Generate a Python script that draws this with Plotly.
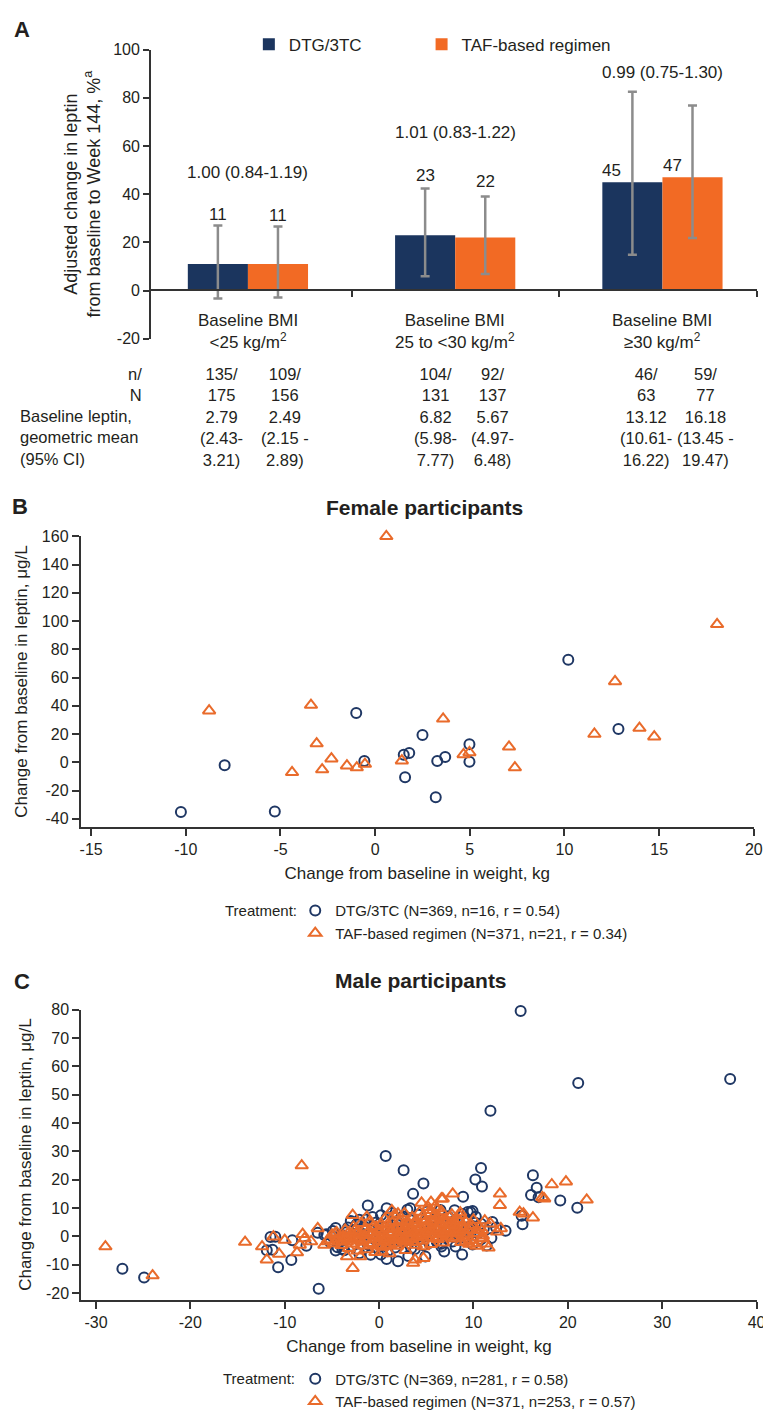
import plotly.graph_objects as go

W, H = 771, 1410
FONT = "Liberation Sans, Arial, Helvetica, sans-serif"
TXT = "#231f20"
AXC = "#333333"
NAVY = "#1b355e"
ORANGE = "#f26a24"
MK_NAVY = "#1f3764"
MK_ORANGE = "#e96b2b"
GRAY = "#8c8c8c"

# ---------------- Panel A: adjusted change in leptin by BMI ----------------
bmi_groups = ["Baseline BMI<br>&lt;25 kg/m<sup>2</sup>",
              "Baseline BMI<br>25 to &lt;30 kg/m<sup>2</sup>",
              "Baseline BMI<br>≥30 kg/m<sup>2</sup>"]
dtg_change = [11, 23, 45]
taf_change = [11, 22, 47]
dtg_ci_lo = [-3.3, 5.9, 14.9]
dtg_ci_hi = [27.0, 42.4, 82.5]
taf_ci_lo = [-2.9, 6.9, 21.8]
taf_ci_hi = [26.6, 39.0, 76.8]
ratio_labels = ["1.00 (0.84-1.19)", "1.01 (0.83-1.22)", "0.99 (0.75-1.30)"]

dtg_n = [135, 104, 46]
dtg_N = [175, 131, 63]
taf_n = [109, 92, 59]
taf_N = [156, 137, 77]
dtg_leptin = ["2.79", "6.82", "13.12"]
dtg_leptin_lo = ["(2.43-", "(5.98-", "(10.61-"]
dtg_leptin_hi = ["3.21)", "7.77)", "16.22)"]
taf_leptin = ["2.49", "5.67", "16.18"]
taf_leptin_lo = ["(2.15 -", "(4.97-", "(13.45 -"]
taf_leptin_hi = ["2.89)", "6.48)", "19.47)"]

a_yticks = [-20, 0, 20, 40, 60, 80, 100]

# ---------------- Panel B: female participants ----------------
fem_dtg_x = [-10.26, -7.95, -5.3, -1.0, -0.57, 1.51, 1.8, 1.58, 2.5, 3.2, 3.28, 3.7, 4.98, 4.98, 10.2, 12.85]
fem_dtg_y = [-35.2, -2.1, -34.7, 35.0, 1.0, 5.4, 6.6, -10.5, 19.4, -24.7, 1.0, 3.8, 12.9, 0.5, 72.7, 23.6]
fem_taf_x = [-8.77, -3.39, -3.09, -4.39, -2.31, -2.8, -1.49, -0.97, -0.54, 0.59, 1.41,
             3.59, 4.67, 4.98, 7.07, 7.38, 11.58, 12.67, 13.96, 14.74, 18.06]
fem_taf_y = [36.6, 40.6, 13.3, -7.0, 2.6, -5.1, -2.3, -3.7, -1.2, 160.0, 1.2,
             30.8, 5.6, 7.0, 11.0, -3.7, 20.1, 57.3, 24.3, 18.2, 97.7]
b_xticks = [-15, -10, -5, 0, 5, 10, 15, 20]
b_yticks = [-40, -20, 0, 20, 40, 60, 80, 100, 120, 140, 160]

# ---------------- Panel C: male participants ----------------
male_dtg_x = [37.2, 21.1, 11.8, 15.0, 0.7, 2.6, 4.7, 3.6, 10.8, 10.2, 10.9, 8.9, 16.3, 16.7, 16.1, 16.9,
              19.2, 21.0, 15.1, 15.2, 13.4, 12.0, 8.8, 6.9, 4.9, 3.1, 2.0, 0.8, -1.2, 0.8, 3.3,
              -6.4, -9.3, -10.7, -11.3, -11.9, -11.5, -11.0, -9.2, -7.7, -6.5, -27.2, -24.9,
              0.2, -0.7, -2.1, -5.6, -4.9, -3.9, -4.6, 3.4, 9.4, 10.25, 8.0, 9.55, 10.8, 9.7, 9.2, 6.6, 6.1,
              -5.8, -5.2, -4.9, -4.4, -4.1, -3.7, -3.5, -3.3, -2.9, -2.6, -2.4, -2.1, -1.8, -1.6, -1.2,
              -0.9, -0.8, -0.5, -0.3, -0.2, 0.1, 0.3, 0.5, 0.8, 0.9, 1.1, 1.3, 1.5, 1.7, 1.9, 2.1, 2.3,
              2.5, 2.7, 2.9, 3.1, 3.3, 3.6, 3.8, 4.0, 4.2, 4.4, 4.6, 4.9, 5.1, 5.3, 5.5, 5.8, 6.0, 6.3,
              6.5, 6.8, 7.0, 7.3, 7.5, 7.8, 8.0, 8.3, 8.5, 8.8, 9.0, 9.3, 9.6, 9.9, 10.2, 10.5, 10.8,
              11.1, 11.4, 9.7, 9.9, 8.1, 6.6, 4.7, 3.0, 1.4, 0.2, -1.4, -3.0, -4.6, 11.9, 12.4]
male_dtg_y = [55.5, 54.1, 44.3, 79.5, 28.4, 23.3, 18.7, 15.0, 24.1, 20.1, 17.6, 14.0, 21.6, 17.2, 14.6, 13.8,
              12.7, 10.1, 7.3, 4.3, 2.0, 5.1, -6.4, -5.3, -7.1, -6.9, -8.8, -8.0, 10.9, 9.9, 9.9,
              -18.5, -8.3, -10.9, -4.7, -4.9, -0.2, -0.1, -1.4, -3.3, 1.3, -11.4, -14.5,
              7.5, 6.8, 5.9, 0.8, -0.1, -4.4, -5.0, -4.2, 8.6, 6.9, 9.2, 3.4, 4.5, 1.0, 1.6, -3.6, -1.8,
              0.5, -2.0, 1.9, -3.8, 0.4, -4.9, 1.5, 3.1, -3.3, -0.1, 4.2, -5.9, 0.9, 3.6, -2.9,
              -6.5, 2.3, -0.8, 4.9, -4.2, 0.3, 3.2, -2.7, 6.6, -5.2, 1.0, -1.2, 3.9, -3.9, 5.1, 1.3, -1.8,
              7.0, 0.2, 3.5, -2.5, 5.8, 1.0, -4.4, 3.3, 7.6, -0.9, 4.5, 1.6, 8.8, -2.3, 3.4, 6.1, 0.4, 2.2,
              9.3, 4.0, -0.5, 7.1, 2.7, -1.8, 5.5, 0.9, 3.1, 7.9, -0.4, 5.9, 2.6, -2.9, 4.8, 1.2, -1.0,
              2.9, -3.2, 8.5, 9.0, -3.6, -2.6, -3.1, 9.4, 8.3, -6.4, 6.0, 5.4, 3.0, -0.6, 3.1]

male_taf_x = [-29.0, -24.0, -8.2, -14.2, -12.4, -11.9, -10.6, -11.2, -10.0, -8.7, -8.4, -7.9, -8.1, -6.5,
              -7.2, -5.8, -5.45, -3.4, -2.8, -2.0, -2.8, -1.3, 0.3, 1.35, 2.0, 3.8, 3.6, 4.7, 4.7, 4.5,
              5.5, 6.6, 5.4, 6.2, 18.3, 19.8, 22.0, 17.3, 17.5, 12.8, 12.8, 14.9, 16.3, 7.8, 6.75, 5.9,
              10.8, 11.8, 12.5, 12.9, 9.55, 9.2, 8.5, 10.4, 10.9, 15.3, 11.0, 9.9,
              -5.4, -5.0, -4.8, -4.5, -4.3, -4.0, -3.8, -3.6, -3.4, -3.2, -3.0, -2.8, -2.7, -2.5, -2.3,
              -2.2, -2.0, -1.9, -1.7, -1.6, -1.4, -1.3, -1.1, -1.0, -0.9, -0.7, -0.6, -0.4, -0.3, -0.1,
              0.0, 0.2, 0.3, 0.4, 0.6, 0.7, 0.9, 1.0, 1.1, 1.2, 1.4, 1.5, 1.6, 1.8, 1.9, 2.0, 2.2, 2.3,
              2.4, 2.6, 2.7, 2.8, 3.0, 3.1, 3.2, 3.4, 3.5, 3.6, 3.8, 3.9, 4.0, 4.2, 4.3, 4.4, 4.6, 4.7,
              4.8, 5.0, 5.1, 5.2, 5.4, 5.5, 5.6, 5.8, 5.9, 6.0, 6.2, 6.3, 6.5, 6.6, 6.8, 6.9, 7.0, 7.2,
              7.3, 7.5, 7.6, 7.8, 8.0, 8.1, 8.3, 8.5, 8.7, 8.8, 9.0, 9.2, 9.4, 9.6, 9.8, 10.1, 10.3,
              10.6, 11.0, 11.3, 11.6, 11.2,
              0.5, 1.3, 2.1, 2.9, 3.3, 3.7, 4.1, 4.5, 4.9, 5.3, 5.7, 6.1, 6.4, 6.7, 7.1, 7.4, 7.9, 8.2,
              -0.2, 0.1, -0.8, -1.5, -2.4, -3.1, -3.9, 1.7, 2.5, 3.9, 4.6, 5.5, 6.3, 7.7, 8.6,
              -4.7, -4.2, -3.5, -3.3, -2.9, -2.6, -2.1, -1.8, -1.2, -1.0, -0.5, -0.3, 0.1, 0.3, 0.8, 0.9,
              1.2, 1.4, 1.6, 1.8, 2.1, 2.3, 2.6, 2.8, 3.0, 3.3, 3.5, 3.7, 4.0, 4.3, 4.6, 4.9, 5.2, 5.4,
              5.7, 6.0, 6.2, 6.5, 6.8, 7.1, 7.4, 7.7, 8.0, 8.3, 8.6, 8.9, 9.3, 9.6, 10.0, 10.4]
male_taf_y = [-3.6, -13.8, 25.0, -2.0, -3.6, -8.2, -6.2, -0.1, -1.3, -5.7, -3.0, -0.7, 0.8, 2.8,
              -1.8, -3.0, -1.8, -7.1, -11.2, -7.1, 7.5, 6.9, -5.3, 9.2, 8.0, -8.2, -9.4, -7.7, -3.6, 11.8,
              12.1, 13.3, 9.2, 9.8, 18.3, 19.3, 12.9, 13.8, 13.3, 15.0, 11.0, 8.6, 6.6, 15.0, 13.3, 10.4,
              -0.7, 4.5, 1.6, 2.8, -2.7, -1.8, 7.5, 2.2, 2.2, 8.0, -0.7, -2.5,
              -1.2, 0.6, -2.5, 1.4, -0.8, -3.1, 0.2, 2.3, -1.9, -4.2, 0.9, -2.6, 3.4, -0.4, -5.1,
              1.8, -1.5, 4.6, -3.3, 0.3, 2.7, -4.6, -0.9, 5.2, 1.2, -2.4, 3.6, -5.6, 0.1, 2.1,
              -1.6, 4.4, -3.7, 0.8, 6.1, -0.5, 2.9, -2.2, -6.0, 1.5, 4.8, -1.0, 7.4, 0.4, -3.4, 3.1, -0.3, 5.6,
              1.9, -2.0, 8.1, -4.9, 0.9, 4.0, -1.2, 2.6, 6.7, -0.2, 1.6, -3.0, 4.9, 0.5, 8.6, 2.8, -1.5, 6.0,
              1.2, 3.7, -0.6, 10.3, 2.0, -2.8, 5.2, 0.8, 7.5, 3.0, -1.0, 4.4, 1.5, 8.8, -2.2, 5.8, 2.4, 0.0,
              3.9, 6.9, 1.0, 4.8, -0.8, 2.9, 6.0, 1.8, -2.1, 3.6, 0.6, 5.1, 2.3, -1.3, 4.0, 1.1, -3.4,
              3.2, 0.2, -2.6, -4.0, 5.6,
              -1.8, 2.4, 0.6, -1.7, 3.3, -2.1, 1.9, -0.4, 3.0, 0.9, 2.5, -0.2, 2.9, 0.6, 4.6, 2.0, 0.9, 4.3,
              -3.1, 1.7, 0.6, -1.3, 1.0, -0.8, -1.5, -2.6, 3.8, 5.7, 7.1, 8.2, 6.9, 7.7, 8.4,
              0.9, -1.8, -0.6, 1.1, -1.2, 2.0, 0.5, -2.0, 1.3, -2.7, -0.2, 3.4, -0.6, 2.6, -1.1, 4.2,
              -3.1, 1.0, 3.0, -1.4, 5.0, 1.3, -0.7, 2.2, 5.3, -0.9, 1.1, 4.4, -0.1, 3.2, 0.2, 5.3, 1.6, 4.1,
              -0.3, 6.3, 2.0, 4.6, 0.9, 5.9, 3.0, -0.2, 3.9, 1.2, 5.3, 2.4, -0.1, 3.4, 5.8, 0.9]
c_xticks = [-30, -20, -10, 0, 10, 20, 30, 40]
c_yticks = [-20, -10, 0, 10, 20, 30, 40, 50, 60, 70, 80]


def px(x):
    return x / W


def py(y):
    return 1 - y / H


def hyphen_labels(vals):
    # the figure prints negative ticks with a plain hyphen
    return [str(v) for v in vals]


fig = go.Figure()

# Panel A bars
fig.add_trace(go.Bar(
    x=[0, 1, 2], y=dtg_change, name="DTG/3TC", marker=dict(color=NAVY, line=dict(width=0)),
    error_y=dict(type="data", symmetric=False,
                 array=[h - v for h, v in zip(dtg_ci_hi, dtg_change)],
                 arrayminus=[v - l for l, v in zip(dtg_ci_lo, dtg_change)],
                 color=GRAY, thickness=2.5, width=4.5),
    xaxis="x", yaxis="y", legend="legend", hoverinfo="skip"))
fig.add_trace(go.Bar(
    x=[0, 1, 2], y=taf_change, name="TAF-based regimen", marker=dict(color=ORANGE, line=dict(width=0)),
    error_y=dict(type="data", symmetric=False,
                 array=[h - v for h, v in zip(taf_ci_hi, taf_change)],
                 arrayminus=[v - l for l, v in zip(taf_ci_lo, taf_change)],
                 color=GRAY, thickness=2.5, width=4.5),
    xaxis="x", yaxis="y", legend="legend4", hoverinfo="skip"))

# Panel B scatter
fig.add_trace(go.Scatter(
    x=fem_dtg_x, y=fem_dtg_y, mode="markers", name="DTG/3TC (N=369, n=16, r = 0.54)",
    marker=dict(symbol="circle-open", size=10, color=MK_NAVY, line=dict(width=2)),
    xaxis="x2", yaxis="y2", legend="legend2", cliponaxis=False))
fig.add_trace(go.Scatter(
    x=fem_taf_x, y=fem_taf_y, mode="markers", name="TAF-based regimen (N=371, n=21, r = 0.34)",
    marker=dict(symbol="triangle-up-open", size=11, color=MK_ORANGE, line=dict(width=2)),
    xaxis="x2", yaxis="y2", legend="legend2", cliponaxis=False))

# Panel C scatter
fig.add_trace(go.Scatter(
    x=male_dtg_x, y=male_dtg_y, mode="markers", name="DTG/3TC (N=369, n=281, r = 0.58)",
    marker=dict(symbol="circle-open", size=10, color=MK_NAVY, line=dict(width=2)),
    xaxis="x3", yaxis="y3", legend="legend3", cliponaxis=False))
fig.add_trace(go.Scatter(
    x=male_taf_x, y=male_taf_y, mode="markers", name="TAF-based regimen (N=371, n=253, r = 0.57)",
    marker=dict(symbol="triangle-up-open", size=11, color=MK_ORANGE, line=dict(width=2)),
    xaxis="x3", yaxis="y3", legend="legend3", cliponaxis=False))

axis_common = dict(showline=True, linewidth=2, linecolor=AXC, ticks="outside", tickwidth=2,
                   tickcolor=AXC, showgrid=False, zeroline=False,
                   tickfont=dict(size=16, color=TXT, family=FONT))

leg_common = dict(bgcolor="rgba(0,0,0,0)", traceorder="normal", tracegroupgap=0)

lep_title = "Change from baseline in leptin, μg/L"
wt_title = "Change from baseline in weight, kg"

fig.update_layout(
    width=W, height=H, margin=dict(l=0, r=0, t=0, b=0),
    paper_bgcolor="white", plot_bgcolor="white",
    font=dict(family=FONT, color=TXT, size=16),
    barmode="group", bargap=0.42, bargroupgap=0,
    xaxis=dict(axis_common, domain=[px(144), px(758)], range=[-0.467, 2.457],
               anchor="free", position=py(277.5), tickvals=[0.5, 1.5, 2.457],
               showticklabels=False, ticklen=6),
    yaxis=dict(axis_common, domain=[py(326.7), py(34)], range=[-20, 100], anchor="x",
               tickvals=a_yticks, ticktext=hyphen_labels(a_yticks), ticklen=6,
               title=dict(text="Adjusted change in leptin<br>from baseline to Week 144, %<sup>a</sup>",
                          font=dict(size=18), standoff=8)),
    xaxis2=dict(axis_common, domain=[px(72.7), px(754.6)], range=[-15.55, 20], anchor="y2",
                tickvals=b_xticks, ticktext=hyphen_labels(b_xticks), ticklen=7,
                title=dict(text=wt_title, font=dict(size=17), standoff=10)),
    yaxis2=dict(axis_common, domain=[py(820.7), py(526.7)], range=[-45.6, 160], anchor="x2",
                tickvals=b_yticks, ticktext=hyphen_labels(b_yticks), ticklen=7,
                title=dict(text=lep_title, font=dict(size=17), standoff=10)),
    xaxis3=dict(axis_common, domain=[px(73.3), px(757.4)], range=[-31.55, 40], anchor="y3",
                tickvals=c_xticks, ticktext=hyphen_labels(c_xticks), ticklen=7,
                title=dict(text=wt_title, font=dict(size=17), standoff=10)),
    yaxis3=dict(axis_common, domain=[py(1299.3), py(1005.7)], range=[-22.3, 80], anchor="x3",
                tickvals=c_yticks, ticktext=hyphen_labels(c_yticks), ticklen=7,
                title=dict(text=lep_title, font=dict(size=17), standoff=10)),
    legend=dict(leg_common, orientation="h", x=px(243), xanchor="left", y=py(29), yanchor="middle",
                font=dict(size=17)),
    legend4=dict(leg_common, orientation="h", x=px(418), xanchor="left", y=py(29), yanchor="middle",
                 font=dict(size=17)),
    legend2=dict(leg_common, orientation="v", x=px(290), xanchor="left", y=py(889), yanchor="top",
                 font=dict(size=15)),
    legend3=dict(leg_common, orientation="v", x=px(290), xanchor="left", y=py(1363), yanchor="top",
                 font=dict(size=15)),
    showlegend=True,
)

ann = []


def note(text, x, y, size=17, xanchor="center", yanchor="middle", xref="paper", yref="paper",
         align="center", angle=0, bold=False):
    ann.append(dict(text=f"<b>{text}</b>" if bold else text, x=x, y=y, xref=xref, yref=yref,
                    xanchor=xanchor, yanchor=yanchor, showarrow=False, align=align,
                    textangle=angle, font=dict(size=size, color=TXT, family=FONT)))


# panel letters
note("A", px(3), py(14), size=22, xanchor="left", bold=True)
note("B", px(1), py(496), size=22, xanchor="left", bold=True)
note("C", px(3), py(977), size=22, xanchor="left", bold=True)

# panel A text
dtg_lab_pos = [(-0.145, 31.4), (0.855, 47.8), (1.752, 49.8)]
taf_lab_pos = [(0.145, 31.0), (1.145, 45.1), (2.05, 52.1)]
ratio_y = [48.9, 65.7, 90.3]
for i in range(3):
    note(str(dtg_change[i]), dtg_lab_pos[i][0], dtg_lab_pos[i][1], xref="x", yref="y")
    note(str(taf_change[i]), taf_lab_pos[i][0], taf_lab_pos[i][1], xref="x", yref="y")
    note(ratio_labels[i], i, ratio_y[i], xref="x", yref="y")
    note(bmi_groups[i], i, py(319), xref="x")

col_x = [215, 280, 432, 490, 645, 706]
for i in range(3):
    d_txt = f"{dtg_n[i]}/<br>{dtg_N[i]}<br>{dtg_leptin[i]}<br>{dtg_leptin_lo[i]}<br>{dtg_leptin_hi[i]}"
    t_txt = f"{taf_n[i]}/<br>{taf_N[i]}<br>{taf_leptin[i]}<br>{taf_leptin_lo[i]}<br>{taf_leptin_hi[i]}"
    note(d_txt, px(col_x[2 * i]), py(406), size=16.5)
    note(t_txt, px(col_x[2 * i + 1]), py(406), size=16.5)
note("n/<br>N", px(137), py(373.5), size=16.5, xanchor="right", align="right")
note("Baseline leptin,<br>geometric mean<br>(95% CI)", px(9), py(427), size=16.5,
     xanchor="left", align="left")

# panel B text
note("Female participants", px(421), py(497), size=21, bold=True)
note("Treatment:", px(217), py(905), size=15, xanchor="left")

# panel C text
note("Male participants", px(417), py(976), size=21, bold=True)
note("Treatment:", px(215), py(1379), size=15, xanchor="left")

fig.update_layout(annotations=ann)

fig.write_html("out.html")
